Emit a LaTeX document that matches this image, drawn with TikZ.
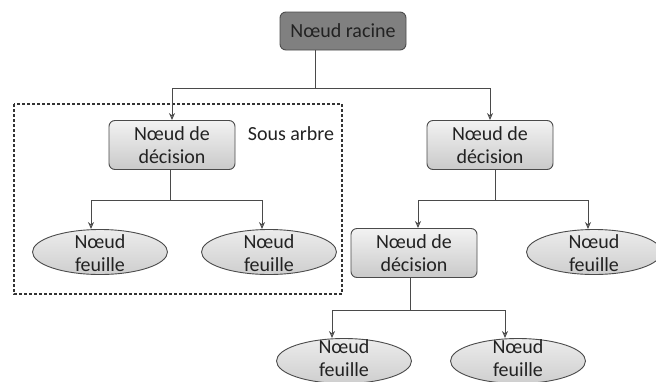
\documentclass[tikz,border=0pt]{standalone}
\usepackage{fontspec}
\setmainfont{Carlito}
\usetikzlibrary{shapes.geometric,arrows.meta}
\definecolor{lineclr}{HTML}{4A4A4A}
\definecolor{txtclr}{HTML}{222222}
\tikzset{
  every node/.style={font=\fontsize{20}{23}\selectfont, text=txtclr},
  decbox/.style={draw=lineclr, line width=0.9pt, rounded corners=6pt, top color=gray!10, bottom color=gray!42, minimum width=126pt, minimum height=49pt, align=center, inner sep=0pt},
  rootbox/.style={draw=black!70, line width=0.9pt, rounded corners=6pt, fill=black!50, minimum width=126pt, minimum height=38pt, inner sep=0pt},
  leaf/.style={ellipse, draw=lineclr, line width=0.9pt, top color=gray!15, bottom color=gray!38, minimum width=135pt, minimum height=45pt, inner sep=0pt},
  leaftxt/.style={align=center, inner sep=0pt},
  conn/.style={draw=lineclr, line width=0.9pt},
  arr/.style={conn, -{Stealth[length=7pt,width=6pt,open]}},
  subtree/.style={draw=black!80, line width=1.1pt, dash pattern=on 3pt off 2pt}
}
\begin{document}
\begin{tikzpicture}[x=1pt,y=-1pt]
\useasboundingbox (0,0) rectangle (656,381);
% dashed subtree frame
\draw[subtree] (14,104) rectangle (342,294);
% nodes
\node[rootbox] (root) at (343,31) {Nœud racine};
\node[decbox] (d1) at (172,145) {Nœud de\\décision};
\node[decbox] (d2) at (490,145) {Nœud de\\décision};
\node[decbox] (d3) at (414,253) {Nœud de\\décision};
\node (st) at (291,134) {Sous arbre};
\node[leaf] (l1) at (100,252) {};
\node[leaftxt] at (100,253) {Nœud\\feuille};
\node[leaf] (l2) at (269,252) {};
\node[leaftxt] at (269,253) {Nœud\\feuille};
\node[leaf] (l3) at (594,252) {};
\node[leaftxt] at (594,253) {Nœud\\feuille};
\node[leaf] (l4) at (344,361) {};
\node[leaftxt] at (344,358) {Nœud\\feuille};
\node[leaf] (l5) at (518,361) {};
\node[leaftxt] at (518,358) {Nœud\\feuille};
% junction coordinates
\coordinate (j0) at (315,88);
\coordinate (j1) at (170,200);
\coordinate (j2) at (495,200);
\coordinate (j3) at (410,310);
% connectors
\draw[conn] (root.south -| j0) -- (j0);
\draw[arr] (j0) -| (d1.north);
\draw[arr] (j0) -| (d2.north);
\draw[conn] (d1.south -| j1) -- (j1);
\draw[arr] (j1) -| (l1.north -| 91,0);
\draw[arr] (j1) -| (l2.north -| 262,0);
\draw[conn] (d2.south -| j2) -- (j2);
\draw[arr] (j2) -| (d3.north -| 418,0);
\draw[arr] (j2) -| (l3.north -| 588,0);
\draw[conn] (d3.south -| j3) -- (j3);
\draw[arr] (j3) -| (l4.north -| 332,0);
\draw[arr] (j3) -| (l5.north -| 505,0);
\end{tikzpicture}
\end{document}
